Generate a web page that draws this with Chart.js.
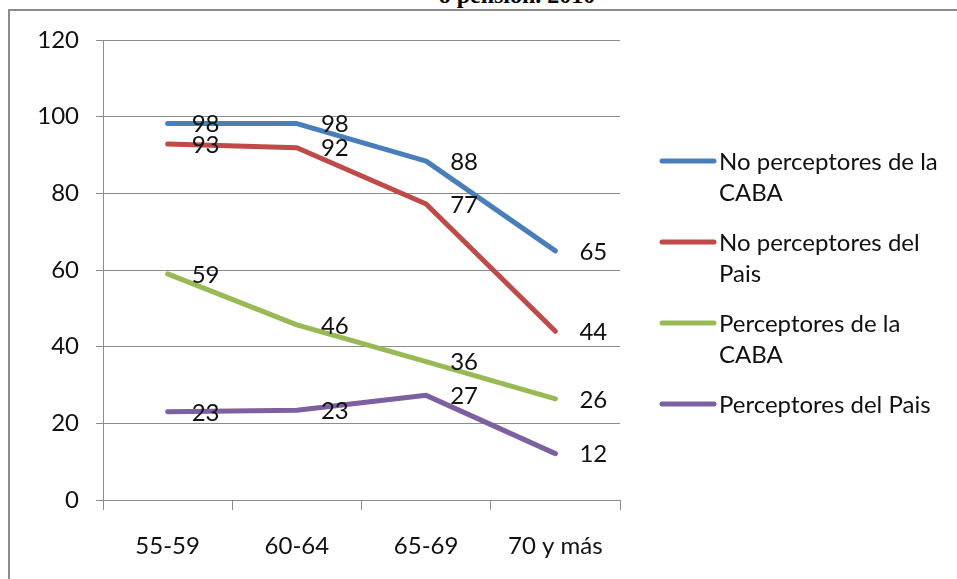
<!DOCTYPE html>
<html>
<head>
<meta charset="utf-8">
<script src="https://cdn.jsdelivr.net/npm/chart.js@4.4.1/dist/chart.umd.min.js"></script>
<style>
  html, body { margin: 0; padding: 0; background: #fff; overflow: hidden; }
  #wrap { position: relative; width: 957px; height: 579px; }
  #frame { position: absolute; left: 8px; top: 9px; width: 1000px; height: 700px; border: 2px solid #8a8a8a; }
  #title { position: absolute; left: 0; width: 1034px; top: -17px; text-align: center;
           font: bold 24px "Liberation Serif", "Times New Roman", serif; line-height: 24px; color: #000; }
  canvas { position: absolute; left: 0; top: 0; }
</style>
</head>
<body>
<div id="wrap">
  <div id="frame"></div>
  <div id="title">o pensión. 2010</div>
  <canvas id="c" width="957" height="579"></canvas>
</div>
<script>
'use strict';

const categories = ['55-59', '60-64', '65-69', '70 y más'];
const yTicks = [0, 20, 40, 60, 80, 100, 120];

const seriesNames = [
  ['No perceptores de la', 'CABA'],
  ['No perceptores del', 'Pais'],
  ['Perceptores de la', 'CABA'],
  ['Perceptores del Pais'],
];
const noPercCaba = [98.2, 98.2, 88.4, 65.0];
const noPercPais = [92.9, 91.9, 77.2, 44.0];
const percCaba = [59.0, 45.7, 36.1, 26.4];
const percPais = [23.0, 23.4, 27.3, 12.1];

const COLORS = ['#4a7ebb', '#be4b48', '#98b954', '#7d60a0'];
const FONT = 'Lato, "Open Sans", sans-serif';
const FONT_SIZE = 24;
const GRID = '#8c8c8c';

// value labels to the right of each point
const pointLabels = {
  id: 'pointLabels',
  afterDatasetsDraw(chart) {
    const ctx = chart.ctx;
    ctx.save();
    ctx.font = FONT_SIZE + 'px ' + FONT;
    ctx.fillStyle = '#111';
    ctx.textAlign = 'left';
    ctx.textBaseline = 'middle';
    chart.data.datasets.forEach((ds, i) => {
      chart.getDatasetMeta(i).data.forEach((pt, j) => {
        ctx.fillText(String(Math.round(ds.data[j])), pt.x + 24, pt.y + 1);
      });
    });
    ctx.restore();
  },
};

// legend on the right, with wrapped names
const sideLegend = {
  id: 'sideLegend',
  afterDraw(chart) {
    const ctx = chart.ctx;
    const x0 = chart.chartArea.right + 40;
    let y = 161;
    ctx.save();
    ctx.font = FONT_SIZE + 'px ' + FONT;
    ctx.fillStyle = '#111';
    ctx.textAlign = 'left';
    ctx.textBaseline = 'middle';
    chart.data.datasets.forEach((ds, i) => {
      ctx.strokeStyle = ds.borderColor;
      ctx.lineWidth = 5;
      ctx.lineCap = 'round';
      ctx.beginPath();
      ctx.moveTo(x0 + 2, y);
      ctx.lineTo(x0 + 54, y);
      ctx.stroke();
      const lines = seriesNames[i];
      lines.forEach((ln, k) => ctx.fillText(ln, x0 + 59, y + 1 + k * 31));
      y += lines.length * 31 + 19;
    });
    ctx.restore();
  },
};

const datasets = [noPercCaba, noPercPais, percCaba, percPais].map((d, i) => ({
  label: seriesNames[i].join(' '),
  data: d,
  borderColor: COLORS[i],
  backgroundColor: COLORS[i],
  borderWidth: 5,
  borderCapStyle: 'round',
  borderJoinStyle: 'round',
  pointRadius: 0,
  tension: 0,
}));

new Chart(document.getElementById('c'), {
  type: 'line',
  data: { labels: categories, datasets },
  plugins: [pointLabels, sideLegend],
  options: {
    responsive: false,
    animation: false,
    layout: { padding: { top: 40, right: 337, left: 0, bottom: 0 } },
    plugins: { legend: { display: false }, tooltip: { enabled: false } },
    scales: {
      x: {
        offset: true,
        afterFit: (s) => { s.height = 79; },
        grid: { offset: true, drawOnChartArea: false, color: GRID, tickLength: 10 },
        border: { color: GRID, width: 1 },
        ticks: { color: '#111', font: { family: FONT, size: FONT_SIZE }, padding: 22, maxRotation: 0 },
      },
      y: {
        min: 0,
        max: 120,
        afterFit: (s) => { s.width = 103; },
        afterBuildTicks: (s) => { s.ticks = yTicks.map((v) => ({ value: v })); },
        grid: { color: GRID, tickLength: 7 },
        border: { color: GRID, width: 1 },
        ticks: { color: '#111', font: { family: FONT, size: FONT_SIZE }, padding: 17 },
      },
    },
  },
});
</script>
</body>
</html>
